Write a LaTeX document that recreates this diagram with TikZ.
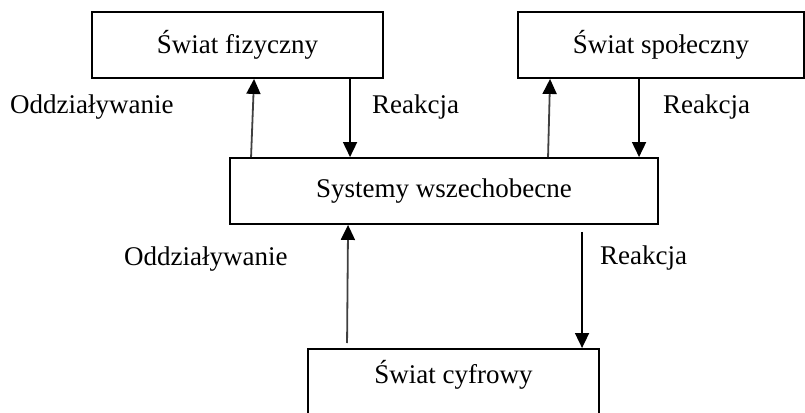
\documentclass[tikz,border=0pt]{standalone}
\usepackage{fontspec}
\setmainfont{Liberation Serif}
\usetikzlibrary{arrows.meta}
\begin{document}
\begin{tikzpicture}[x=1pt,y=-1pt,
  box/.style={draw=black, line width=1.9pt, inner sep=0pt, font=\fontsize{27}{32}\selectfont},
  lbl/.style={anchor=base west, inner sep=0pt, font=\fontsize{27}{32}\selectfont},
  uparr/.style={draw=black!75, line width=1.8pt, -{Triangle[length=15pt,width=14pt,color=black]}},
  downarr/.style={draw=black, line width=1.7pt, -{Triangle[length=15pt,width=14pt,color=black]}}
]
\useasboundingbox (0,0) rectangle (805,412);
\clip (0,0) rectangle (805,412);
\node[box, minimum width=291pt, minimum height=66pt] (fiz) at (237.5,45) {Świat fizyczny};
\node[box, minimum width=286pt, minimum height=66pt] (spol) at (661,45) {Świat społeczny};
\node[box, minimum width=428pt, minimum height=66pt] (sys) at (444,191) {Systemy wszechobecne};
\node[box, anchor=north, minimum width=291pt, text height=35pt, text depth=40pt] (cyf) at (453.5,348) {Świat cyfrowy};

\node[lbl] (o1) at (10,113) {Oddziaływanie};
\node[lbl] (r1) at (372,113) {Reakcja};
\node[lbl] (r2) at (663,113) {Reakcja};
\node[lbl] (o2) at (124,265) {Oddziaływanie};
\node[lbl] (r3) at (600,264) {Reakcja};

\draw[uparr] ([xshift=22pt]sys.north west) -- ([xshift=163pt]fiz.south west);
\draw[downarr] ([xshift=259pt]fiz.south west) -- ([xshift=121pt]sys.north west);
\draw[uparr] ([xshift=319pt]sys.north west) -- ([xshift=33pt]spol.south west);
\draw[downarr] ([xshift=122pt]spol.south west) -- ([xshift=410pt]sys.north west);
\draw[uparr] ([xshift=40pt,yshift=5pt]cyf.north west) -- ([xshift=119pt]sys.south west);
\draw[downarr] ([xshift=353pt,yshift=-7pt]sys.south west) -- ([xshift=275pt]cyf.north west);
\end{tikzpicture}
\end{document}
